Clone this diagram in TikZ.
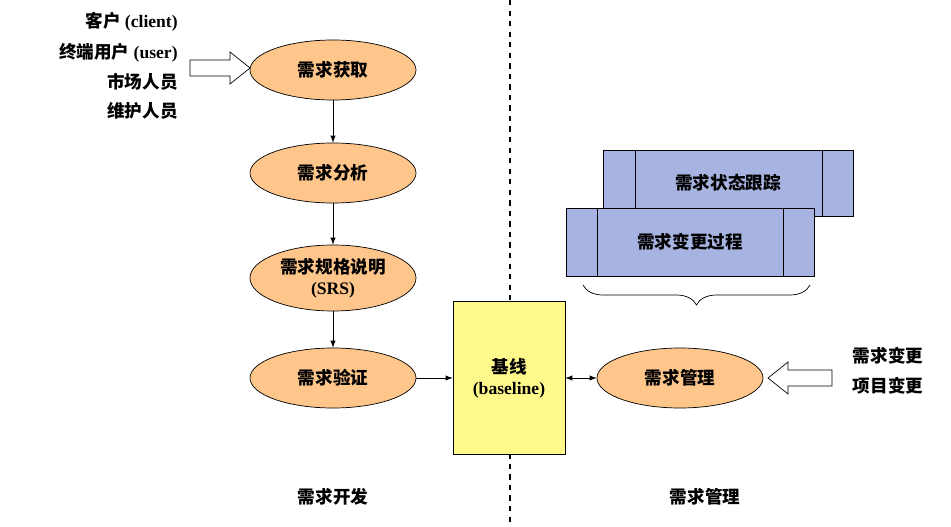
\documentclass[tikz,border=0pt]{standalone}
\usepackage{fontspec}
\setmainfont{Liberation Serif}
\newfontfamily\cjk{Noto Sans CJK SC}
\usetikzlibrary{shapes.geometric,decorations.pathreplacing}
\tikzset{
  req/.style={ellipse,draw,fill=orange!45!white,minimum width=166*0.02cm,minimum height=60*0.02cm,inner sep=0pt,align=center,font=\bfseries},
  tbox/.style={draw,fill=cyan!35!blue!35!white},
  lbl/.style={font=\bfseries,inner sep=0pt},
  flow/.style={-latex,thin}
}
\begin{document}
\begin{tikzpicture}[x=0.02cm,y=-0.02cm]
\useasboundingbox (0,0) rectangle (951,527);
\draw[dashed,thick] (510,0)--(510,527);
% development side
\node[req] (get) at (333,70) {\cjk 需求获取};
\node[req] (ana) at (333,173) {\cjk 需求分析};
\node[req,minimum height=66*0.02cm] (srs) at (333,278) {{\cjk 需求规格说明}\\(SRS)};
\node[req] (ver) at (333,378) {\cjk 需求验证};
\draw[flow] (get)--(ana);
\draw[flow] (ana)--(srs);
\draw[flow] (srs)--(ver);
\node[lbl,anchor=east] (src1) at (178,22) {{\cjk 客户} (client)};
\node[lbl,anchor=east] (src2) at (178,53) {{\cjk 终端用户} (user)};
\node[lbl,anchor=east] (src3) at (178,82) {\cjk 市场人员};
\node[lbl,anchor=east] (src4) at (178,111) {\cjk 维护人员};
\draw[fill=white] (190,60)--(230,60)--(230,52)--(250,68)--(230,84)--(230,76)--(190,76)--cycle;
% baseline
\node[draw,fill=yellow!45!white,minimum width=112*0.02cm,minimum height=153*0.02cm,align=center,font=\bfseries] (base) at (509,378) {{\cjk 基线}\\(baseline)};
\draw[flow] (ver)--(base);
% management side
\node[req] (man) at (680,378) {\cjk 需求管理};
\draw[latex-latex,thin] (base)--(man);
\draw[tbox] (603,150) rectangle (853,216);
\draw (635,150)--(635,216) (822,150)--(822,216);
\node[lbl] (trk) at (728,183) {\cjk 需求状态跟踪};
\draw[tbox] (566,208) rectangle (814,276);
\draw (597,208)--(597,276) (783,208)--(783,276);
\node[lbl] (chg) at (690,242) {\cjk 需求变更过程};
\draw[decorate,decoration={brace,mirror,amplitude=20*0.02cm}] (583,285)--(810,285);
\draw[fill=white] (832,370)--(788,370)--(788,362)--(768,378)--(788,394)--(788,386)--(832,386)--cycle;
\node[lbl] (in1) at (888,356) {\cjk 需求变更};
\node[lbl] (in2) at (888,386) {\cjk 项目变更};
% bottom labels
\node[lbl] (dev) at (333,497) {\cjk 需求开发};
\node[lbl] (mgt) at (705,497) {\cjk 需求管理};
\end{tikzpicture}
\end{document}
